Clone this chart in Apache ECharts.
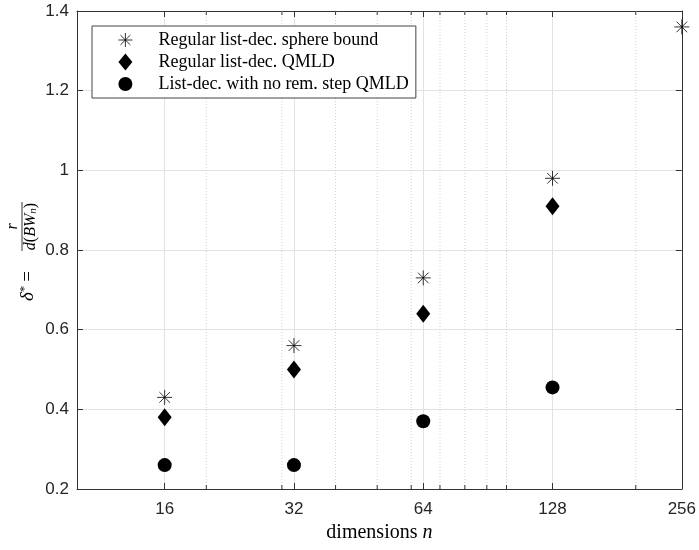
<!DOCTYPE html>
<html>
<head>
<meta charset="utf-8">
<script src="https://cdn.jsdelivr.net/npm/echarts@6/dist/echarts.min.js"></script>
<style>
html,body{margin:0;padding:0;background:#fff;}
#chart{width:699px;height:550px;}
</style>
</head>
<body>
<div id="chart"></div>
<script>
// ---- data ----
const dims = [16, 32, 64, 128, 256];
const sphereBound = [0.43, 0.56, 0.73, 0.98, 1.36];
const regularQmld = [0.38, 0.50, 0.64, 0.91];
const noRemQmld = [0.26, 0.26, 0.37, 0.455];
const minorXTicks = [20, 30, 40, 50, 60, 70, 80, 90, 100, 200];
const seriesNames = ['Regular list-dec. sphere bound', 'Regular list-dec. QMLD', 'List-dec. with no rem. step QMLD'];
const xMin = 10, xMax = 256;
const yMin = 0.2, yMax = 1.4, yStep = 0.2;

function pairs(vals) { return vals.map((v, i) => [dims[i], v]); }

const axisColor = '#333333';
const tickFont = { fontFamily: 'Liberation Sans, Arial, sans-serif', fontSize: 17, color: '#262626' };
const serif = 'Liberation Serif, Times New Roman, serif';

const asteriskPath = 'path://M7 0 L7 14 M0 7 L14 7 M2.05 2.05 L11.95 11.95 M11.95 2.05 L2.05 11.95';

const chart = echarts.init(document.getElementById('chart'), null, { renderer: 'canvas' });

const xAxisBase = {
  type: 'log', logBase: 2, min: xMin, max: xMax, gridIndex: 0
};

const option = {
  animation: false,
  backgroundColor: '#ffffff',
  grid: { left: 77, right: 15, top: 11, bottom: 61, containLabel: false },
  xAxis: [
    Object.assign({}, xAxisBase, {
      position: 'bottom',
      name: 'dimensions {i|n}',
      nameLocation: 'middle',
      nameGap: 34,
      nameTextStyle: { fontFamily: serif, fontSize: 20, color: '#000',
        rich: { i: { fontFamily: serif, fontSize: 20, fontStyle: 'italic', color: '#000' } } },
      axisLine: { show: true, lineStyle: { color: axisColor, width: 1 } },
      axisTick: { show: true, inside: true, length: 6, lineStyle: { color: axisColor } },
      axisLabel: Object.assign({ margin: 12, showMinLabel: false }, tickFont),
      splitLine: { show: true, lineStyle: { color: '#e2e2e2', width: 1 } }
    }),
    Object.assign({}, xAxisBase, {
      position: 'top',
      axisLine: { show: true, lineStyle: { color: axisColor, width: 1 } },
      axisTick: { show: true, inside: true, length: 6, lineStyle: { color: axisColor } },
      axisLabel: { show: false },
      splitLine: { show: false }
    })
  ],
  yAxis: [
    {
      type: 'value', min: yMin, max: yMax, interval: yStep, position: 'left',
      axisLine: { show: true, lineStyle: { color: axisColor, width: 1 } },
      axisTick: { show: true, inside: true, length: 6, lineStyle: { color: axisColor } },
      axisLabel: Object.assign({ margin: 8 }, tickFont),
      splitLine: { show: true, lineStyle: { color: '#e2e2e2', width: 1 } }
    },
    {
      type: 'value', min: yMin, max: yMax, interval: yStep, position: 'right',
      axisLine: { show: true, lineStyle: { color: axisColor, width: 1 } },
      axisTick: { show: true, inside: true, length: 6, lineStyle: { color: axisColor } },
      axisLabel: { show: false },
      splitLine: { show: false }
    }
  ],
  legend: {
    data: seriesNames,
    orient: 'vertical',
    left: 92, top: 26,
    padding: [5, 7, 5, 26],
    itemWidth: 14, itemHeight: 17, itemGap: 4,
    itemStyle: { borderWidth: 0.8 },
    backgroundColor: '#ffffff',
    borderColor: '#444444', borderWidth: 1,
    formatter: name => '{t|' + name + '}',
    textStyle: { fontFamily: serif, fontSize: 18, color: '#000',
      rich: { t: { fontFamily: serif, fontSize: 18, color: '#000', padding: [0, 0, 0, 21] } } },
    selectedMode: false
  },
  graphic: [
    {
      type: 'group', x: 27, y: 250, rotation: Math.PI / 2,
      children: [
        { type: 'text', x: -21, y: 1, style: {
            text: '{i|δ}{s|*}{e|=}', align: 'right', verticalAlign: 'middle',
            fontFamily: serif, fontSize: 19, fill: '#000',
            rich: { i: { fontFamily: serif, fontStyle: 'italic', fontSize: 19 },
                    s: { fontFamily: serif, fontSize: 13, verticalAlign: 'top' },
                    e: { fontFamily: serif, fontSize: 19, padding: [0, 0, 0, 4] } } } },
        { type: 'line', shape: { x1: -1, y1: -5, x2: 48, y2: -5 }, style: { stroke: '#000', lineWidth: 0.8 } },
        { type: 'text', x: 23.5, y: -6, style: {
            text: 'r', align: 'center', verticalAlign: 'bottom',
            fontFamily: serif, fontStyle: 'italic', fontSize: 16, fill: '#000' } },
        { type: 'text', x: 23.5, y: -4, style: {
            text: '{i|d}({i|BW}{s|n})', align: 'center', verticalAlign: 'top',
            fontFamily: serif, fontSize: 16, fill: '#000',
            rich: { i: { fontFamily: serif, fontStyle: 'italic', fontSize: 16 },
                    s: { fontFamily: serif, fontStyle: 'italic', fontSize: 11, verticalAlign: 'bottom' } } } }
      ]
    }
  ],
  series: [
    {
      type: 'custom', name: 'minor', xAxisIndex: 0, yAxisIndex: 0, silent: true, z: 1,
      data: minorXTicks.map(v => [v, yMin]),
      renderItem: function (params, api) {
        const cs = params.coordSys;
        const px = api.coord([api.value(0), yMin])[0];
        const top = cs.y, bot = cs.y + cs.height;
        return {
          type: 'group',
          children: [
            { type: 'line', shape: { x1: px, y1: top, x2: px, y2: bot },
              style: { stroke: '#cfcfcf', lineWidth: 1, lineDash: [1, 2] } },
            { type: 'line', shape: { x1: px, y1: bot, x2: px, y2: bot - 4 },
              style: { stroke: axisColor, lineWidth: 1 } },
            { type: 'line', shape: { x1: px, y1: top, x2: px, y2: top + 4 },
              style: { stroke: axisColor, lineWidth: 1 } }
          ]
        };
      }
    },
    {
      type: 'scatter', name: seriesNames[0], z: 5,
      data: pairs(sphereBound),
      symbol: asteriskPath, symbolSize: 15, symbolKeepAspect: true,
      itemStyle: { color: '#000', borderColor: '#000', borderWidth: 0.8, opacity: 1 }
    },
    {
      type: 'scatter', name: seriesNames[1], z: 5,
      data: pairs(regularQmld),
      symbol: 'diamond', symbolSize: [14, 18],
      itemStyle: { color: '#000', opacity: 1 }
    },
    {
      type: 'scatter', name: seriesNames[2], z: 5,
      data: pairs(noRemQmld),
      symbol: 'circle', symbolSize: 14,
      itemStyle: { color: '#000', opacity: 1 }
    }
  ]
};
chart.setOption(option);
</script>
</body>
</html>
